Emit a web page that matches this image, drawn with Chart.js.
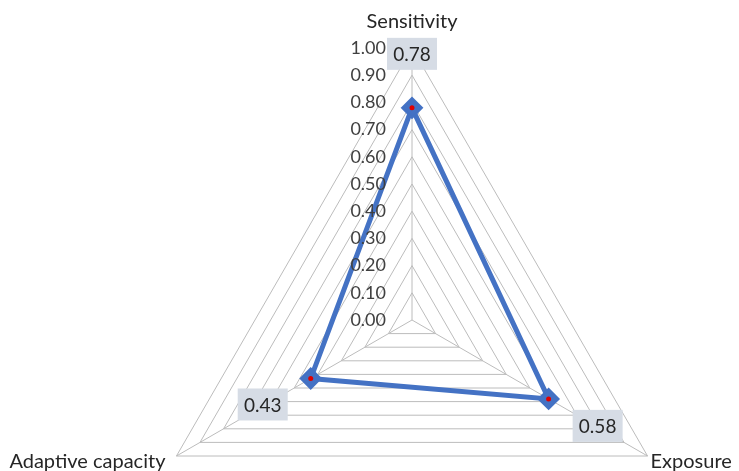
<!DOCTYPE html>
<html>
<head>
<meta charset="utf-8">
<script src="https://cdn.jsdelivr.net/npm/chart.js@4"></script>
<style>
    html, body { margin: 0; padding: 0; background: #fff; }
    #wrap { width: 739px; height: 471px; }
</style>
</head>
<body>
<div id="wrap"><canvas id="radarChart" width="739" height="471"></canvas></div>
<script>
const categories = ['Sensitivity', 'Exposure', 'Adaptive capacity'];
const scores = [0.78, 0.58, 0.43];
const tickValues = [0, 0.1, 0.2, 0.3, 0.4, 0.5, 0.6, 0.7, 0.8, 0.9, 1.0];

const FONT = 'Lato, "Open Sans", sans-serif';
const BLUE = '#4472C4';

// draws tick labels, category labels and value boxes
const radarText = {
    id: 'radarText',
    afterDatasetsDraw(chart) {
        const ctx = chart.ctx;
        const r = chart.scales.r;
        ctx.save();

        // tick labels, left of the vertical axis
        ctx.font = '18px ' + FONT;
        ctx.fillStyle = '#404040';
        ctx.textAlign = 'right';
        ctx.textBaseline = 'middle';
        tickValues.forEach(v => {
            const d = r.getDistanceFromCenterForValue(v);
            ctx.fillText(v.toFixed(2), r.xCenter - 26, r.yCenter - d);
        });

        // category labels
        ctx.font = '20px ' + FONT;
        ctx.fillStyle = '#262626';
        const top = r.getPointPosition(0, r.drawingArea);
        ctx.textAlign = 'center';
        ctx.fillText(categories[0], top.x, top.y - 26);
        const right = r.getPointPosition(1, r.drawingArea);
        ctx.textAlign = 'left';
        ctx.fillText(categories[1], right.x + 3, right.y + 6);
        const left = r.getPointPosition(2, r.drawingArea);
        ctx.textAlign = 'right';
        ctx.fillText(categories[2], left.x - 11, left.y + 6);

        // value boxes
        const offsets = [[0, -54], [49, 27], [-48, 26]];
        const meta = chart.getDatasetMeta(0);
        ctx.font = '19px ' + FONT;
        ctx.textAlign = 'center';
        meta.data.forEach((pt, i) => {
            const cx = pt.x + offsets[i][0];
            const cy = pt.y + offsets[i][1];
            ctx.fillStyle = '#D6DCE5';
            ctx.fillRect(cx - 25, cy - 16, 50, 32);
            ctx.fillStyle = '#262626';
            ctx.fillText(scores[i].toFixed(2), cx, cy + 1);
        });
        ctx.restore();
    }
};

new Chart(document.getElementById('radarChart'), {
    type: 'radar',
    data: {
        labels: categories,
        datasets: [{
            data: scores,
            order: 1,
            borderColor: BLUE,
            borderWidth: 5,
            backgroundColor: 'rgba(0,0,0,0)',
            fill: false,
            pointStyle: 'rectRot',
            pointRadius: 10,
            pointBackgroundColor: BLUE,
            pointBorderColor: BLUE,
            pointBorderWidth: 2
        }, {
            data: scores,
            order: 0,
            showLine: false,
            fill: false,
            backgroundColor: 'rgba(0,0,0,0)',
            borderWidth: 0,
            pointRadius: 2.5,
            pointBorderWidth: 0,
            pointBackgroundColor: '#E00000',
            pointBorderColor: '#E00000'
        }]
    },
    options: {
        responsive: false,
        animation: false,
        plugins: {
            legend: { display: false },
            tooltip: { enabled: false }
        },
        scales: {
            r: {
                min: 0,
                max: 1,
                ticks: { display: false, stepSize: 0.1 },
                pointLabels: { display: false },
                grid: { color: '#BCBCBC', lineWidth: 1 },
                angleLines: { color: '#BCBCBC', lineWidth: 1 },
                afterFit(scale) {
                    scale.xCenter = 412;
                    scale.yCenter = 320;
                    scale.drawingArea = 272;
                }
            }
        }
    },
    plugins: [radarText]
});
</script>
</body>
</html>
